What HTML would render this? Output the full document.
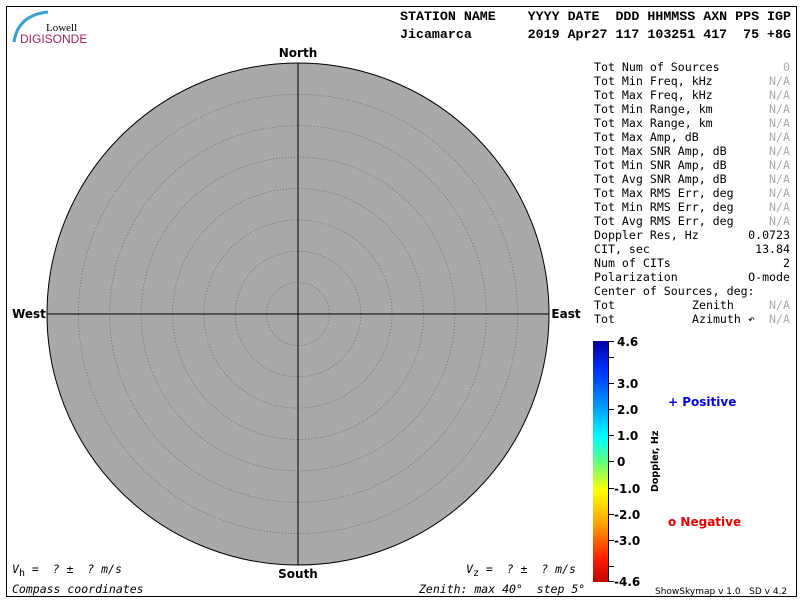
<!DOCTYPE html>
<html><head><meta charset="utf-8"><style>
body{margin:0;background:#fff;}
svg{display:block;}
.m{font-family:"DejaVu Sans Mono","Liberation Mono",monospace;font-size:11.6px;}
.g{fill:#aaa;}
.h{font-family:"Liberation Mono",monospace;font-weight:bold;font-size:13.3px;}
.b{font-family:"DejaVu Sans","Liberation Sans",sans-serif;font-weight:bold;font-size:12px;}
.i{font-family:"DejaVu Sans Mono","Liberation Mono",monospace;font-style:italic;font-size:11.5px;}
</style></head><body>
<svg width="800" height="600" xmlns="http://www.w3.org/2000/svg">
<defs><linearGradient id="cb" x1="0" y1="0" x2="0" y2="1">
<stop offset="0" stop-color="#0000a0"/><stop offset="0.12" stop-color="#0030ff"/>
<stop offset="0.28" stop-color="#00a0ff"/><stop offset="0.4" stop-color="#00ffff"/>
<stop offset="0.5" stop-color="#60ff80"/><stop offset="0.62" stop-color="#ffff00"/>
<stop offset="0.76" stop-color="#ffa000"/><stop offset="0.9" stop-color="#ff2000"/>
<stop offset="1" stop-color="#c00000"/></linearGradient></defs>
<rect x="6.5" y="6.5" width="790" height="590" fill="#fff" stroke="#000"/>
<path d="M14 42 Q18 15 48 12" stroke="#3aa0d0" stroke-width="3" fill="none"/>
<text x="46" y="31" font-family="Liberation Serif,serif" font-size="11">Lowell</text>
<text x="20" y="43" font-family="Liberation Sans,sans-serif" font-size="12" fill="#a02060">DIGISONDE</text>
<text class="h" x="400" y="20" xml:space="preserve">STATION NAME    YYYY DATE  DDD HHMMSS AXN PPS IGP</text>
<text class="h" x="400" y="38" xml:space="preserve">Jicamarca       2019 Apr27 117 103251 417  75 +8G</text>
<circle cx="298" cy="314" r="251" fill="#a9a9a9" stroke="#000"/>
<g fill="none" stroke="#666" stroke-dasharray="1,2" stroke-width="0.8">
<circle cx="298" cy="314" r="31.4"/><circle cx="298" cy="314" r="62.8"/><circle cx="298" cy="314" r="94.1"/><circle cx="298" cy="314" r="125.5"/><circle cx="298" cy="314" r="156.9"/><circle cx="298" cy="314" r="188.3"/><circle cx="298" cy="314" r="219.6"/></g>
<line x1="47" y1="314" x2="549" y2="314" stroke="#000"/>
<line x1="298" y1="63" x2="298" y2="565" stroke="#000"/>
<g class="b" text-anchor="middle"><text x="298" y="57">North</text><text x="298" y="578">South</text><text x="29" y="318">West</text><text x="566" y="318">East</text></g>
<g class="m" xml:space="preserve">
<text x="594" y="71">Tot Num of Sources</text><text x="790" y="71" class="g" text-anchor="end">0</text>
<text x="594" y="85">Tot Min Freq, kHz</text><text x="790" y="85" class="g" text-anchor="end">N/A</text>
<text x="594" y="99">Tot Max Freq, kHz</text><text x="790" y="99" class="g" text-anchor="end">N/A</text>
<text x="594" y="113">Tot Min Range, km</text><text x="790" y="113" class="g" text-anchor="end">N/A</text>
<text x="594" y="127">Tot Max Range, km</text><text x="790" y="127" class="g" text-anchor="end">N/A</text>
<text x="594" y="141">Tot Max Amp, dB</text><text x="790" y="141" class="g" text-anchor="end">N/A</text>
<text x="594" y="155">Tot Max SNR Amp, dB</text><text x="790" y="155" class="g" text-anchor="end">N/A</text>
<text x="594" y="169">Tot Min SNR Amp, dB</text><text x="790" y="169" class="g" text-anchor="end">N/A</text>
<text x="594" y="183">Tot Avg SNR Amp, dB</text><text x="790" y="183" class="g" text-anchor="end">N/A</text>
<text x="594" y="197">Tot Max RMS Err, deg</text><text x="790" y="197" class="g" text-anchor="end">N/A</text>
<text x="594" y="211">Tot Min RMS Err, deg</text><text x="790" y="211" class="g" text-anchor="end">N/A</text>
<text x="594" y="225">Tot Avg RMS Err, deg</text><text x="790" y="225" class="g" text-anchor="end">N/A</text>
<text x="594" y="239">Doppler Res, Hz</text><text x="790" y="239" text-anchor="end">0.0723</text>
<text x="594" y="253">CIT, sec</text><text x="790" y="253" text-anchor="end">13.84</text>
<text x="594" y="267">Num of CITs</text><text x="790" y="267" text-anchor="end">2</text>
<text x="594" y="281">Polarization</text><text x="790" y="281" text-anchor="end">O-mode</text>
<text x="594" y="295">Center of Sources, deg:</text>
<text x="594" y="309">Tot</text><text x="692" y="309">Zenith</text><text x="790" y="309" class="g" text-anchor="end">N/A</text>
<text x="594" y="323">Tot</text><text x="692" y="323">Azimuth ↶</text><text x="790" y="323" class="g" text-anchor="end">N/A</text>
</g>
<rect x="593" y="341" width="15" height="241" fill="url(#cb)"/>
<line x1="608.5" y1="341" x2="608.5" y2="582" stroke="#000"/>
<g stroke="#000"><line x1="608" y1="341.5" x2="614" y2="341.5"/><line x1="608" y1="357.5" x2="614" y2="357.5"/><line x1="608" y1="383.5" x2="614" y2="383.5"/><line x1="608" y1="409.5" x2="614" y2="409.5"/><line x1="608" y1="435.5" x2="614" y2="435.5"/><line x1="608" y1="461.5" x2="614" y2="461.5"/><line x1="608" y1="488.5" x2="614" y2="488.5"/><line x1="608" y1="514.5" x2="614" y2="514.5"/><line x1="608" y1="540.5" x2="614" y2="540.5"/><line x1="608" y1="566.5" x2="614" y2="566.5"/><line x1="608" y1="581.5" x2="614" y2="581.5"/></g>
<g class="b"><text x="617" y="346">4.6</text><text x="617" y="388">3.0</text><text x="617" y="414">2.0</text><text x="617" y="440">1.0</text><text x="617" y="466">0</text><text x="614" y="493">-1.0</text><text x="614" y="519">-2.0</text><text x="614" y="545">-3.0</text><text x="614" y="586">-4.6</text></g>
<text x="658" y="492" transform="rotate(-90 658 492)" font-family="DejaVu Sans,sans-serif" font-weight="bold" font-size="9.5">Doppler, Hz</text>
<text x="668" y="406" class="b" font-size="10" fill="#0000ee">+ Positive</text>
<text x="668" y="526" class="b" font-size="10" fill="#ee0000">o Negative</text>
<text x="655" y="594" font-family="DejaVu Sans,sans-serif" font-size="9" xml:space="preserve">ShowSkymap v 1.0   SD v 4.2</text>
<text class="i" x="12" y="573" xml:space="preserve">V<tspan font-style="normal" font-size="10" dy="3">h</tspan><tspan dy="-3"> =  ? ±  ? m/s</tspan></text>
<text class="i" x="466" y="573" xml:space="preserve">V<tspan font-style="normal" font-size="10" dy="3">z</tspan><tspan dy="-3"> =  ? ±  ? m/s</tspan></text>
<text class="i" x="12" y="593">Compass coordinates</text>
<text class="i" x="419" y="593" xml:space="preserve">Zenith: max 40°  step 5°</text>
</svg>
</body></html>
